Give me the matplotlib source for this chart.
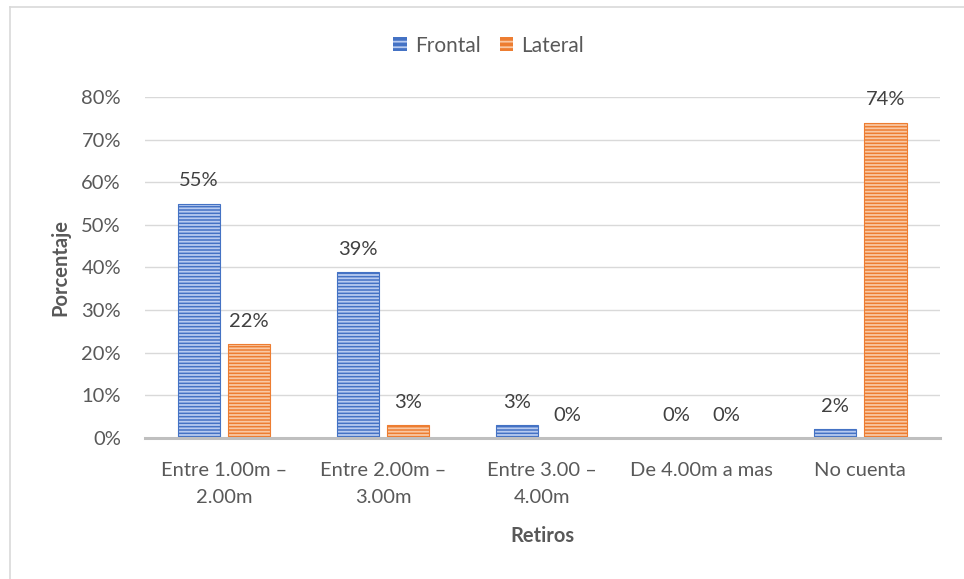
import matplotlib
matplotlib.use("Agg")
import matplotlib.pyplot as plt
import numpy as np
from matplotlib.patches import Rectangle

categories = ["Entre 1.00m –\n2.00m", "Entre 2.00m –\n3.00m", "Entre 3.00 –\n4.00m",
              "De 4.00m a mas", "No cuenta"]
frontal = [0.55, 0.39, 0.03, 0.00, 0.02]
lateral = [0.22, 0.03, 0.00, 0.00, 0.74]
series_names = ["Frontal", "Lateral"]

plt.rcParams['font.family'] = ['Lato', 'DejaVu Sans']
plt.rcParams['hatch.linewidth'] = 1.3
txt = '#595959'
fs = 14.5

fig = plt.figure(figsize=(9.64, 5.79), dpi=100)
ax = fig.add_axes([0.150, 0.2435, 0.825, 0.589])

x = np.arange(len(categories))
w = 0.265
off = 0.158
colors = ['#4472C4', '#ED7D31']
stripe = ['#b8cbf0', '#f9c8a4']
for vals, sgn, c, s in [(frontal, -1, colors[0], stripe[0]), (lateral, 1, colors[1], stripe[1])]:
    ax.bar(x + sgn * off, vals, w, color=c, edgecolor=s, hatch='-----', linewidth=0, zorder=3)
    ax.bar(x + sgn * off, vals, w, fill=False, edgecolor=c, linewidth=0.8, zorder=4)
    for xi, v in zip(x + sgn * off, vals):
        ax.text(xi, v + 0.033, f"{round(v*100):.0f}%", ha='center', va='bottom',
                fontsize=fs, color='#404040', zorder=5)

ax.set_xlim(-0.5, len(categories) - 0.5)
ax.set_ylim(0, 0.8)
ax.set_yticks(np.arange(0, 0.81, 0.1))
ax.set_yticklabels([f"{int(round(t*100))}%" for t in np.arange(0, 0.81, 0.1)])
ax.set_xticks(x)
ax.set_xticklabels(categories, linespacing=1.75)
ax.tick_params(axis='both', length=0, labelsize=fs, labelcolor=txt)
ax.tick_params(axis='x', pad=17)
ax.tick_params(axis='y', pad=17)
ax.grid(axis='y', color='#d9d9d9', linewidth=1, zorder=0)
for sp in ['top', 'right', 'left']:
    ax.spines[sp].set_visible(False)
ax.spines['bottom'].set_color('#bfbfbf')
ax.spines['bottom'].set_linewidth(2.2)
ax.spines['bottom'].set_zorder(6)

ax.set_ylabel("Porcentaje", fontsize=fs, fontweight='bold', color=txt, labelpad=8)
ax.set_xlabel("Retiros", fontsize=fs, fontweight='bold', color=txt, labelpad=14)

handles = [Rectangle((0, 0), 1, 1, facecolor=colors[i], edgecolor=stripe[i], hatch='---', linewidth=0)
           for i in range(2)]
fig.legend(handles, series_names, loc='center', bbox_to_anchor=(0.507, 0.921), ncol=2,
           frameon=False, fontsize=15, labelcolor=txt, handlelength=0.65, handleheight=0.65,
           handletextpad=0.4, columnspacing=0.9)

# chart border (left and top visible)
fig.add_artist(plt.Line2D([10/964, 10/964], [0, 1 - 7/579], color='#d9d9d9', lw=1.2,
                          transform=fig.transFigure))
fig.add_artist(plt.Line2D([10/964, 1], [1 - 7/579, 1 - 7/579], color='#d9d9d9', lw=1.2,
                          transform=fig.transFigure))

fig.savefig("out.png", dpi=100)
